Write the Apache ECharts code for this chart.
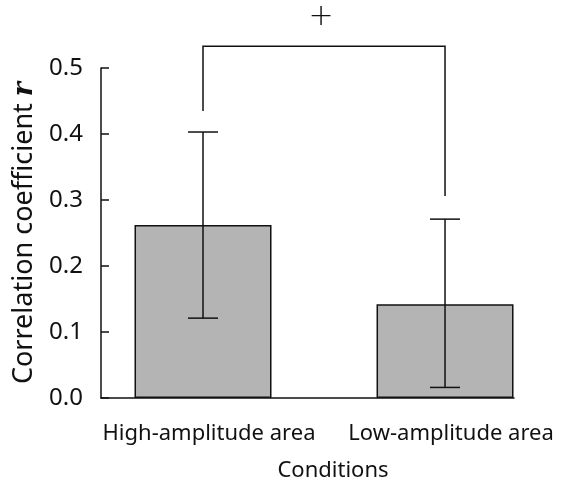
<!DOCTYPE html>
<html>
<head>
<meta charset="utf-8">
<script src="https://cdn.jsdelivr.net/npm/echarts@6/dist/echarts.min.js"></script>
<style>
  html, body { margin: 0; padding: 0; background: #fff; }
  #chart { width: 564px; height: 484px; }
</style>
</head>
<body>
<div id="chart"></div>
<script>
// data
const categories = ["High-amplitude area", "Low-amplitude area"];
const means = [0.262, 0.142];
const errLow = [0.121, 0.016];
const errHigh = [0.403, 0.271];
// significance bracket: left foot, top, right foot, and the marker height
const bracketLeft = 0.435;
const bracketTop = 0.533;
const bracketRight = 0.306;
const markY = 0.577;
const markText = "+";

const font = "Noto Sans";
const chart = echarts.init(document.getElementById("chart"));

const xs = categories.map((c, i) => i);

chart.setOption({
  animation: false,
  textStyle: { fontFamily: font },
  grid: { left: 101, right: 50, top: 68, bottom: 86, outerBoundsMode: "none" },
  xAxis: {
    type: "value",
    min: -0.4215,
    max: 1.285,
    splitLine: { show: false },
    axisTick: { show: false },
    axisLine: { show: true, onZero: false, lineStyle: { color: "#111", width: 1.5 } },
    axisLabel: {
      customValues: xs,
      formatter: v => categories[Math.round(v)],
      color: "#111",
      fontSize: 22,
      margin: 25,
      padding: [0, 0, 0, 12]
    },
    name: "Conditions",
    nameLocation: "middle",
    nameGap: 62,
    nameTextStyle: { color: "#111", fontSize: 22, padding: [0, 0, 0, 51] }
  },
  yAxis: {
    type: "value",
    min: 0,
    max: 0.5,
    interval: 0.1,
    splitLine: { show: false },
    axisLine: { show: true, onZero: false, lineStyle: { color: "#111", width: 1.5 } },
    axisTick: { inside: true, length: 8, lineStyle: { color: "#111", width: 1.5 } },
    axisLabel: {
      color: "#111",
      fontSize: 24,
      margin: 18,
      formatter: v => v.toFixed(1)
    },
    name: "Correlation coefficient {r|r}",
    nameLocation: "middle",
    nameGap: 61,
    nameRotate: 90,
    nameTextStyle: {
      color: "#111",
      fontSize: 27,
      rich: {
        r: { fontSize: 27, fontStyle: "italic", fontWeight: "bold", fontFamily: "DejaVu Serif", color: "#111" }
      }
    }
  },
  series: [
    {
      type: "bar",
      data: xs.map((x, i) => [x, means[i]]),
      barWidth: 137,
      itemStyle: { color: "#b4b4b4", borderColor: "#111", borderWidth: 1.5 }
    },
    {
      type: "custom",
      data: xs.map((x, i) => [x, errLow[i], errHigh[i]]),
      z: 5,
      renderItem: (params, api) => {
        const lo = api.coord([api.value(0), api.value(1)]);
        const hi = api.coord([api.value(0), api.value(2)]);
        const w = 15;
        const style = { stroke: "#111", lineWidth: 1.5 };
        return {
          type: "group",
          children: [
            { type: "line", shape: { x1: lo[0], y1: lo[1], x2: hi[0], y2: hi[1] }, style },
            { type: "line", shape: { x1: hi[0] - w, y1: hi[1], x2: hi[0] + w, y2: hi[1] }, style },
            { type: "line", shape: { x1: lo[0] - w, y1: lo[1], x2: lo[0] + w, y2: lo[1] }, style }
          ]
        };
      }
    },
    {
      type: "custom",
      clip: false,
      data: [[xs[0], bracketLeft, xs[1], bracketRight, bracketTop, markY]],
      renderItem: (params, api) => {
        const a = api.coord([api.value(0), api.value(1)]);
        const b = api.coord([api.value(2), api.value(3)]);
        const top = api.coord([api.value(0), api.value(4)])[1];
        const m = api.coord([(api.value(0) + api.value(2)) / 2, api.value(5)]);
        return {
          type: "group",
          children: [
            {
              type: "polyline",
              shape: { points: [[a[0], a[1]], [a[0], top], [b[0], top], [b[0], b[1]]] },
              style: { stroke: "#111", lineWidth: 1.5, fill: null }
            },
            {
              type: "text",
              style: {
                x: m[0] - 3, y: m[1], text: markText, fontSize: 30, fontFamily: "DejaVu Sans",
                fontWeight: 200, fill: "#111", align: "center", verticalAlign: "middle"
              }
            }
          ]
        };
      }
    }
  ]
});
</script>
</body>
</html>
